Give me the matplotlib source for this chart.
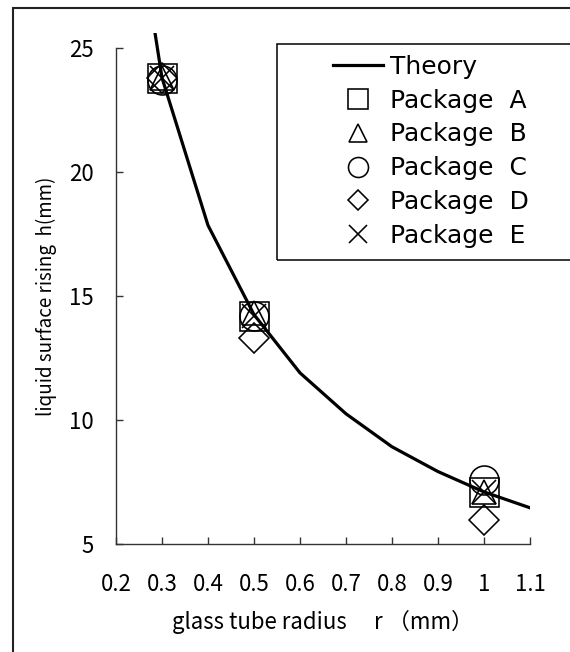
import matplotlib
matplotlib.use("Agg")
import matplotlib.pyplot as plt
from matplotlib.lines import Line2D
from matplotlib.patches import Rectangle

plt.rcParams['font.family'] = ['Noto Sans CJK JP', 'DejaVu Sans']

# ---- data ----
r_theory = [0.2, 0.3, 0.4, 0.5, 0.6, 0.7, 0.8, 0.9, 1.0, 1.1]
h_theory = [35.7, 23.8, 17.85, 14.25, 11.9, 10.25, 8.92, 7.92, 7.1, 6.46]

r_meas = [0.3, 0.5, 1.0]
h_A = [23.8, 14.2, 7.08]
h_B = [23.8, 14.3, 7.1]
h_C = [23.7, 14.2, 7.58]
h_D = [23.8, 13.3, 5.95]
h_E = [23.8, 14.2, 7.1]

series_labels = ["Package  A", "Package  B", "Package  C", "Package  D", "Package  E"]
x_ticks = [0.2, 0.3, 0.4, 0.5, 0.6, 0.7, 0.8, 0.9, 1.0, 1.1]
x_ticklabels = ["0.2", "0.3", "0.4", "0.5", "0.6", "0.7", "0.8", "0.9", "1", "1.1"]
y_ticks = [5, 10, 15, 20, 25]

W, H = 570, 652
fig = plt.figure(figsize=(W / 100, H / 100), dpi=100)

def px(v):
    return v * 0.72  # pixels -> points at 100 dpi

ax = fig.add_axes([116 / W, 1 - 544 / H, (530 - 116) / W, (544 - 48) / H])
ax.set_xlim(0.2, 1.1)
ax.set_ylim(5, 25)
for s in ["top", "right"]:
    ax.spines[s].set_visible(False)
for s in ["left", "bottom"]:
    ax.spines[s].set_color("#333333")
    ax.spines[s].set_linewidth(1.0)

ax.set_xticks(x_ticks)
ax.set_xticklabels(x_ticklabels)
ax.set_yticks(y_ticks)
ax.tick_params(direction="in", length=px(7), width=1.0, color="#333333",
               labelsize=16, pad=px(22))
ax.tick_params(axis="x", pad=px(29))

ax.set_xlabel("glass tube radius\u3000 r （mm）", fontsize=16, labelpad=px(14))
ax.set_ylabel("liquid surface rising  h(mm)", fontsize=13.5, labelpad=px(12))

ms_main = px(29)
mew = px(1.6)
style = dict(linestyle="none", markerfacecolor="none", markeredgecolor="black",
             markeredgewidth=mew)
ax.plot(r_meas, h_A, marker="s", markersize=ms_main, zorder=3, **style)
ax.plot(r_meas, h_B, marker="^", markersize=ms_main * 0.85, zorder=3, **style)
ax.plot(r_meas, h_C, marker="o", markersize=ms_main, zorder=3, **style)
ax.plot(r_meas, h_D, marker="D", markersize=ms_main / 1.414, zorder=3, **style)
ax.plot(r_meas, h_E, marker="x", markersize=ms_main * 0.85, zorder=3, **style)

line, = ax.plot(r_theory, h_theory, color="black", linewidth=px(3.2), zorder=4)
clip = Rectangle((0, 0), 1, 1.03, transform=ax.transAxes, facecolor="none", edgecolor="none")
line.set_clip_path(clip)

# ---- legend ----
ms_leg = px(20)
handles = [
    Line2D([], [], color="black", linewidth=px(3.2)),
    Line2D([], [], marker="s", markersize=ms_leg, **style),
    Line2D([], [], marker="^", markersize=ms_leg * 0.95, **style),
    Line2D([], [], marker="o", markersize=ms_leg, **style),
    Line2D([], [], marker="D", markersize=ms_leg / 1.414, **style),
    Line2D([], [], marker="x", markersize=ms_leg * 0.95, **style),
]
labels = ["Theory"] + series_labels
fs_leg = 18
em = fs_leg / 0.72
leg = fig.legend(handles, labels, loc="upper left", bbox_to_anchor=(333 / W, 1 - 55 / H),
                 frameon=False, prop={'family': 'DejaVu Sans', 'size': fs_leg},
                 handlelength=50 / em, handletextpad=0.3, labelspacing=0.39,
                 borderpad=0, borderaxespad=0)

fig.patches.append(Rectangle((277 / W, 1 - 260 / H), 1.0, (260 - 44) / H,
                             transform=fig.transFigure, fill=False,
                             edgecolor="black", linewidth=1.1))
# figure border (left and top visible)
fig.patches.append(Rectangle((13 / W, -0.2), 1.5, 1.2 - 8 / H,
                             transform=fig.transFigure, fill=False,
                             edgecolor="#222222", linewidth=1.5))

fig.savefig("out.png", dpi=100)
